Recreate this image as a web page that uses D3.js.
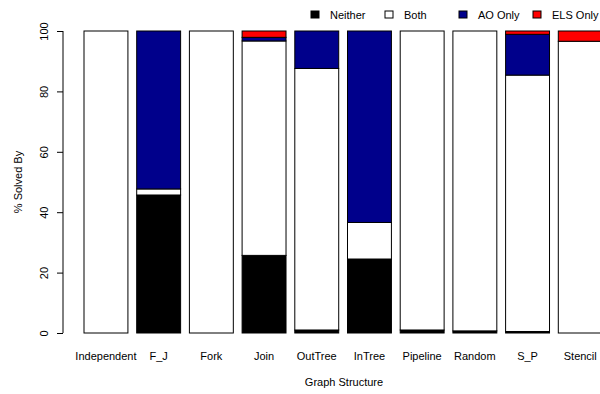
<!DOCTYPE html>
<html>
<head>
<meta charset="utf-8">
<script src="https://cdn.jsdelivr.net/npm/d3@7"></script>
<style>
  html, body { margin: 0; padding: 0; background: #fff; }
  svg { display: block; font-family: "Liberation Sans", Arial, Helvetica, sans-serif; }
</style>
</head>
<body>
<svg id="chart" width="600" height="394"></svg>
<script>
// Graph structures on the x axis
const categories = ["Independent", "F_J", "Fork", "Join", "OutTree", "InTree", "Pipeline", "Random", "S_P", "Stencil"];

// Percentage of instances solved, stacked bottom to top
const neither = [0, 45.7, 0, 25.7, 1.0, 24.5, 1.0, 0.7, 0.5, 0];
const both    = [100, 2.0, 100, 71.0, 86.6, 12.1, 99.0, 99.3, 84.9, 96.6];
const aoOnly  = [0, 52.3, 0, 1.2, 12.4, 63.4, 0, 0, 13.5, 0];
const elsOnly = [0, 0, 0, 2.1, 0, 0, 0, 0, 1.1, 3.4];

const seriesNames = ["Neither", "Both", "AO Only", "ELS Only"];
const seriesColors = ["#000000", "#ffffff", "#00008b", "#ff0000"];
const yTicks = [0, 20, 40, 60, 80, 100];

const svg = d3.select("#chart");

const step = 52.7;
const x0 = 84 - step / 6;
const x = d3.scaleBand()
  .domain(categories)
  .range([x0, x0 + step * (categories.length + 1 / 6)])
  .paddingInner(1 / 6)
  .paddingOuter(1 / 6);

const y = d3.scaleLinear().domain([0, 100]).range([333, 31]);

// Build stacked table
const rows = categories.map((c, i) => ({
  cat: c,
  "Neither": neither[i],
  "Both": both[i],
  "AO Only": aoOnly[i],
  "ELS Only": elsOnly[i]
}));
const stacked = d3.stack().keys(seriesNames)(rows);

const color = d3.scaleOrdinal().domain(seriesNames).range(seriesColors);

svg.append("g")
  .selectAll("g")
  .data(stacked)
  .join("g")
  .attr("fill", d => color(d.key))
  .selectAll("rect")
  .data(d => d.filter(s => s[1] - s[0] > 0))
  .join("rect")
  .attr("x", d => x(d.data.cat))
  .attr("width", x.bandwidth())
  .attr("y", d => y(d[1]))
  .attr("height", d => y(d[0]) - y(d[1]))
  .attr("stroke", "#000")
  .attr("stroke-width", 1);

// Y axis (R-style: rotated labels, outward ticks)
const yAxis = d3.axisLeft(y).tickValues(yTicks).tickSize(6).tickPadding(0).tickFormat(d3.format("d"));
const gy = svg.append("g").attr("transform", "translate(63,0)").call(yAxis);
gy.select(".domain").attr("d", `M0,${y(0)}V${y(100)}`).attr("stroke", "#000");
gy.selectAll(".tick line").attr("stroke", "#000");
gy.selectAll(".tick text")
  .attr("x", null).attr("dy", null)
  .attr("transform", "translate(-19,0) rotate(-90)")
  .attr("text-anchor", "middle")
  .attr("dominant-baseline", "central")
  .attr("font-size", 11)
  .attr("fill", "#000");

// Category labels
svg.append("g")
  .selectAll("text")
  .data(categories)
  .join("text")
  .attr("x", d => x(d) + x.bandwidth() / 2)
  .attr("y", 360)
  .attr("text-anchor", "middle")
  .attr("font-size", 11)
  .text(d => d);

// Axis titles
svg.append("text")
  .attr("x", 344).attr("y", 386)
  .attr("text-anchor", "middle")
  .attr("font-size", 11)
  .text("Graph Structure");

svg.append("text")
  .attr("transform", "translate(22,182) rotate(-90)")
  .attr("text-anchor", "middle")
  .attr("font-size", 11)
  .text("% Solved By");

// Legend
const legendX = [311, 385, 459, 533];
const lg = svg.append("g")
  .selectAll("g")
  .data(seriesNames)
  .join("g")
  .attr("transform", (d, i) => `translate(${legendX[i]},11)`);
lg.append("rect")
  .attr("width", 8).attr("height", 7)
  .attr("fill", d => color(d))
  .attr("stroke", "#000").attr("stroke-width", 1);
lg.append("text")
  .attr("x", 19).attr("y", 8)
  .attr("font-size", 11)
  .text(d => d);
</script>
</body>
</html>
